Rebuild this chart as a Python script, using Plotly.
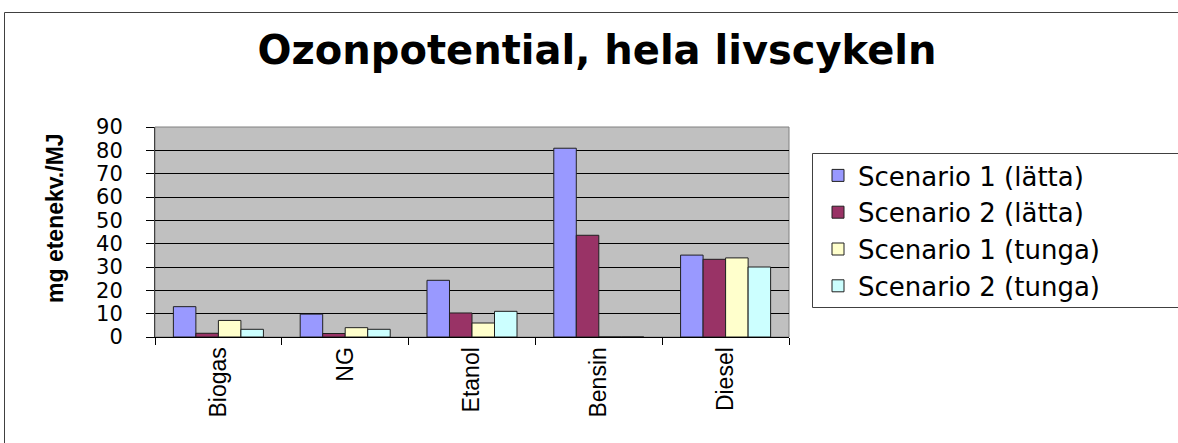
import plotly.graph_objects as go

# Fuel categories and ozone-forming potential per scenario (mg eteneekv./MJ)
categories = ["Biogas", "NG", "Etanol", "Bensin", "Diesel"]
scenario1_latta = [13.0, 9.8, 24.3, 80.9, 35.1]
scenario2_latta = [1.6, 1.5, 10.3, 43.6, 33.3]
scenario1_tunga = [7.1, 4.0, 6.0, 0, 33.9]
scenario2_tunga = [3.3, 3.3, 11.0, 0, 30.0]

series_names = [
    "Scenario 1 (lätta)",
    "Scenario 2 (lätta)",
    "Scenario 1 (tunga)",
    "Scenario 2 (tunga)",
]
series_values = [scenario1_latta, scenario2_latta, scenario1_tunga, scenario2_tunga]
series_colors = ["#9999FF", "#993366", "#FFFFCC", "#CCFFFF"]

y_ticks = list(range(0, 100, 10))

W, H = 1178, 443
L, R, T, B = 155, 389, 127, 106
PW, PH = W - L - R, H - T - B


def px_to_paper_x(px):
    return (px - L) / PW


def px_to_paper_y(py):
    return (H - B - py) / PH


fig = go.Figure()
for name, vals, col in zip(series_names, series_values, series_colors):
    fig.add_trace(
        go.Bar(
            x=categories,
            y=vals,
            name=name,
            marker=dict(color=col, line=dict(color="#202020", width=1)),
        )
    )

fig.update_layout(
    width=W,
    height=H,
    margin=dict(l=L, r=R, t=T, b=B),
    paper_bgcolor="white",
    plot_bgcolor="#C0C0C0",
    barmode="group",
    bargap=0.29,
    bargroupgap=0,
    font=dict(family="DejaVu Sans", color="black"),
    title=dict(
        text="<b>Ozonpotential, hela livscykeln</b>",
        x=597 / W,
        xanchor="center",
        y=1 - 50 / H,
        yanchor="middle",
        font=dict(family="DejaVu Sans", size=40, color="black"),
    ),
    legend=dict(
        x=px_to_paper_x(818),
        y=px_to_paper_y(152),
        xanchor="left",
        yanchor="top",
        borderwidth=0,
        bgcolor="rgba(0,0,0,0)",
        font=dict(family="DejaVu Sans", size=26, color="black"),
        tracegroupgap=0,
    ),
    showlegend=True,
)

fig.update_xaxes(
    type="category",
    showline=True,
    linecolor="black",
    linewidth=1,
    ticks="outside",
    tickson="boundaries",
    ticklen=7,
    tickcolor="black",
    tickangle=-90,
    tickfont=dict(family="Liberation Sans", size=23, color="black"),
    showgrid=False,
    mirror=False,
)

fig.update_yaxes(
    range=[0, 90],
    tickvals=y_ticks,
    showline=True,
    linecolor="#404040",
    linewidth=1,
    ticks="outside",
    ticklen=8,
    tickcolor="black",
    ticklabelstandoff=19,
    tickfont=dict(family="DejaVu Sans", size=21, color="black"),
    showgrid=True,
    gridcolor="black",
    gridwidth=1,
    zeroline=False,
)

# Plot-area frame
fig.add_shape(
    type="rect", xref="paper", yref="paper", x0=0, x1=1, y0=0, y1=1,
    line=dict(color="#808080", width=1), layer="below",
)

# Legend frame, running off the right edge of the chart
fig.add_shape(
    type="rect", xref="paper", yref="paper",
    x0=px_to_paper_x(812.5), x1=px_to_paper_x(1200),
    y0=px_to_paper_y(307.5), y1=px_to_paper_y(153.5),
    line=dict(color="#404040", width=1), layer="below",
)

# Outer chart border
fig.add_shape(
    type="rect", xref="paper", yref="paper",
    x0=px_to_paper_x(4.5), x1=px_to_paper_x(1200),
    y0=px_to_paper_y(460), y1=px_to_paper_y(12.5),
    line=dict(color="#404040", width=1),
)

# Y-axis title
fig.add_annotation(
    text="<b>mg etenekv./MJ</b>",
    xref="paper", yref="paper",
    x=px_to_paper_x(55), y=px_to_paper_y(218),
    xanchor="center", yanchor="middle",
    textangle=-90, showarrow=False,
    font=dict(family="Liberation Sans", size=23, color="black"),
)

fig.write_html("out.html")
